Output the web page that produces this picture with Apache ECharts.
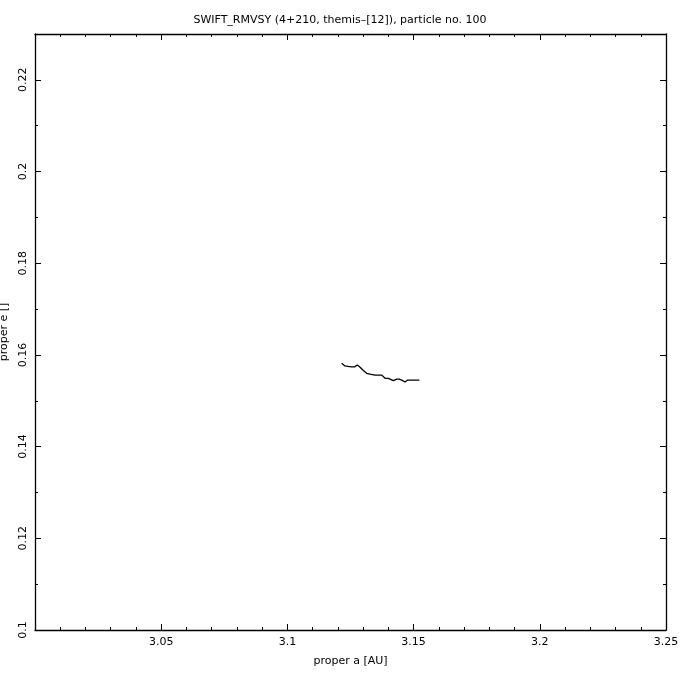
<!DOCTYPE html>
<html>
<head>
<meta charset="utf-8">
<script src="https://cdn.jsdelivr.net/npm/echarts@6/dist/echarts.min.js"></script>
<style>html,body{margin:0;padding:0;background:#fff}#c{width:680px;height:680px}</style>
</head>
<body>
<div id="c"></div>
<script>
var titleText = "SWIFT_RMVSY (4+210, themis\u2013[12]), particle no. 100";
var xName = "proper a [AU]";
var yName = "proper e []";
var properA = [3.1215, 3.1222, 3.1228, 3.1240, 3.1255, 3.1266, 3.1277, 3.1283, 3.1288, 3.1295, 3.1301, 3.1308, 3.1314, 3.1320, 3.1327, 3.1337, 3.1347, 3.1360, 3.1374, 3.1380, 3.1387, 3.1393, 3.1400, 3.1406, 3.1420, 3.1433, 3.1443, 3.1453, 3.1460, 3.1466, 3.1475, 3.1486, 3.1505, 3.1523];
var properE = [0.1582, 0.1580, 0.1576, 0.1575, 0.1574, 0.1574, 0.1578, 0.1576, 0.1573, 0.1570, 0.1566, 0.1563, 0.1560, 0.1559, 0.1558, 0.1557, 0.1556, 0.1556, 0.1556, 0.1553, 0.1549, 0.1551, 0.1549, 0.1547, 0.1544, 0.1547, 0.1547, 0.1545, 0.1543, 0.1541, 0.1545, 0.1545, 0.1545, 0.1545];

var data = properA.map(function (a, i) { return [a, properE[i]]; });
var font = "'DejaVu Sans', sans-serif";
var chart = echarts.init(document.getElementById('c'), null, {renderer: 'canvas'});
var axisLine = {show: true, lineStyle: {color: '#000', width: 1.3}};
chart.setOption({
  animation: false,
  backgroundColor: '#fff',
  title: {text: titleText, left: 'center', top: 10, textStyle: {fontFamily: font, fontSize: 11, fontWeight: 'normal', color: '#000'}},
  grid: {left: 35, right: 14, top: 34, bottom: 50, containLabel: false, outerBoundsMode: 'none'},
  xAxis: [{
    type: 'value', min: 3.0, max: 3.25, interval: 0.05, position: 'bottom',
    name: xName, nameLocation: 'middle', nameGap: 26,
    nameTextStyle: {fontFamily: font, fontSize: 11, color: '#000'},
    axisLine: axisLine,
    axisTick: {show: true, inside: true, length: 6, lineStyle: {color: '#000'}},
    minorTick: {show: true, splitNumber: 5, length: 3, lineStyle: {color: '#000'}},
    splitLine: {show: false},
    axisLabel: {showMinLabel: false, fontFamily: font, fontSize: 11, color: '#000', margin: 7,
      formatter: function (v) { return String(+v.toFixed(2)); }}
  }, {
    type: 'value', min: 3.0, max: 3.25, interval: 0.05, position: 'top',
    axisLine: axisLine,
    axisTick: {show: true, inside: true, length: 6, lineStyle: {color: '#000'}},
    minorTick: {show: true, splitNumber: 5, length: 3, lineStyle: {color: '#000'}},
    splitLine: {show: false}, axisLabel: {show: false}
  }],
  yAxis: [{
    type: 'value', min: 0.1, max: 0.23, interval: 0.02, position: 'left',
    name: yName, nameLocation: 'middle', nameGap: 24, nameRotate: 90,
    nameTextStyle: {fontFamily: font, fontSize: 11, color: '#000'},
    axisLine: axisLine,
    axisTick: {show: true, inside: true, length: 6, lineStyle: {color: '#000'}},
    minorTick: {show: true, splitNumber: 2, length: 3, lineStyle: {color: '#000'}},
    splitLine: {show: false},
    axisLabel: {showMaxLabel: false, rotate: 90, fontFamily: font, fontSize: 11, color: '#000', margin: 6,
      formatter: function (v) { return String(+v.toFixed(2)); }}
  }, {
    type: 'value', min: 0.1, max: 0.23, interval: 0.02, position: 'right',
    axisLine: axisLine,
    axisTick: {show: true, inside: true, length: 6, lineStyle: {color: '#000'}},
    minorTick: {show: true, splitNumber: 2, length: 3, lineStyle: {color: '#000'}},
    splitLine: {show: false}, axisLabel: {show: false}
  }],
  series: [{
    type: 'line', data: data, showSymbol: false, symbol: 'none',
    lineStyle: {color: '#000', width: 1.3}, xAxisIndex: 0, yAxisIndex: 0
  }]
});
</script>
</body>
</html>
